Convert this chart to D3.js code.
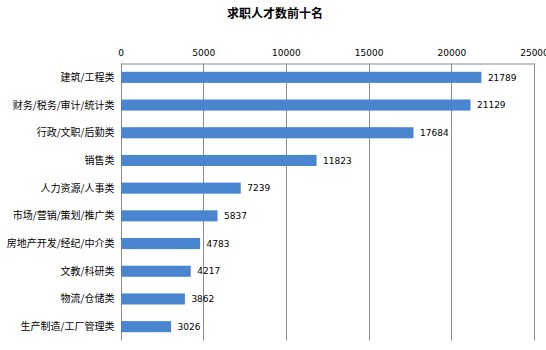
<!DOCTYPE html>
<html>
<head>
<meta charset="utf-8">
<script src="https://cdn.jsdelivr.net/npm/d3@7/dist/d3.min.js"></script>
<style>
  html, body { margin: 0; padding: 0; background: #fff; }
  svg { display: block; }
</style>
</head>
<body>
<div id="chart"></div>
<script>
// Top ten job-seeker categories by number of applicants
const categories = [
  "建筑/工程类", "财务/税务/审计/统计类", "行政/文职/后勤类", "销售类", "人力资源/人事类",
  "市场/营销/策划/推广类", "房地产开发/经纪/中介类", "文教/科研类", "物流/仓储类", "生产制造/工厂管理类"
];
const values = [21789, 21129, 17684, 11823, 7239, 5837, 4783, 4217, 3862, 3026];
const tickValues = [0, 5000, 10000, 15000, 20000, 25000];
const title = "求职人才数前十名";

const W = 546, H = 350;
const margin = { top: 63.5, right: 12, bottom: 9.5, left: 120.5 };
const cjk = "'Noto Sans CJK SC', 'Noto Sans', sans-serif";

const svg = d3.select("#chart").append("svg")
  .attr("width", W).attr("height", H);

const x = d3.scaleLinear().domain([0, 25000]).range([margin.left, 534]);
const y = d3.scaleBand().domain(categories)
  .range([margin.top, H - margin.bottom]).paddingInner(0.6).paddingOuter(0.3);

// Title
svg.append("text")
  .attr("x", 275).attr("y", 18)
  .attr("text-anchor", "middle")
  .attr("font-family", cjk).attr("font-weight", "bold").attr("font-size", 12)
  .attr("fill", "#000")
  .text(title);

// Top value axis
const axis = svg.append("g").attr("transform", `translate(0,${margin.top})`)
  .call(d3.axisTop(x).tickValues(tickValues).tickSize(0).tickPadding(8).tickFormat(d3.format("d")));
axis.select(".domain").attr("stroke", "#8c8c8c");
axis.selectAll("text").attr("font-family", "'DejaVu Sans', sans-serif").attr("font-size", 9).attr("fill", "#000");

// Vertical gridlines
svg.append("g").selectAll("line").data(tickValues).join("line")
  .attr("x1", d => Math.round(x(d)) + 0.5).attr("x2", d => Math.round(x(d)) + 0.5)
  .attr("y1", margin.top).attr("y2", H - margin.bottom)
  .attr("stroke", "#8c8c8c").attr("stroke-width", 1);

// Bars
svg.append("g").selectAll("rect").data(values).join("rect")
  .attr("x", x(0) + 0.5)
  .attr("y", (d, i) => y(categories[i]))
  .attr("width", d => x(d) - x(0))
  .attr("height", y.bandwidth())
  .attr("fill", "#4a85d0");

// Value labels
svg.append("g").selectAll("text").data(values).join("text")
  .attr("x", d => x(d) + 7)
  .attr("y", (d, i) => y(categories[i]) + y.bandwidth() / 2)
  .attr("dy", "0.35em")
  .attr("font-family", "'DejaVu Sans', sans-serif").attr("font-size", 9)
  .attr("fill", "#000")
  .text(d => d);

// Category labels
svg.append("g").selectAll("text").data(categories).join("text")
  .attr("x", margin.left - 6)
  .attr("y", d => y(d) + y.bandwidth() / 2)
  .attr("dy", "0.35em")
  .attr("text-anchor", "end")
  .attr("font-family", cjk).attr("font-size", 10)
  .attr("fill", "#000")
  .text(d => d);
</script>
</body>
</html>
